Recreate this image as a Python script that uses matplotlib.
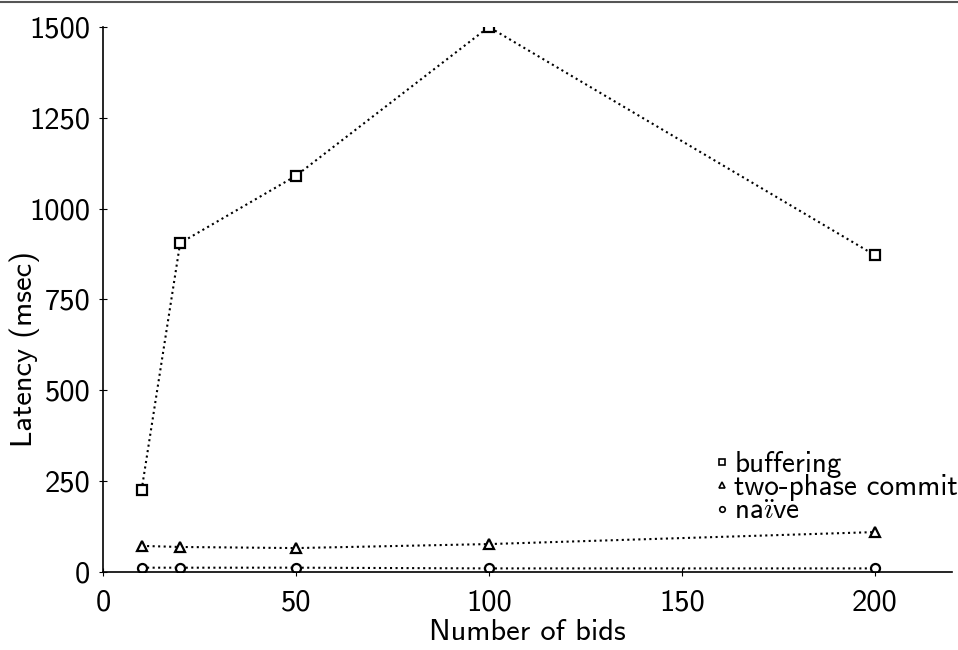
import matplotlib
matplotlib.use("Agg")
import matplotlib.pyplot as plt
from matplotlib.lines import Line2D

plt.rcParams['font.family'] = ['cmss10', 'DejaVu Sans']
plt.rcParams['axes.unicode_minus'] = False
plt.rcParams['mathtext.fontset'] = 'cm'

# data
bids = [10, 20, 50, 100, 200]
buffering = [224, 905, 1090, 1500, 872]
two_phase = [71, 68, 65, 76, 109]
naive = [11, 11, 11, 9, 9]

xticks = [0, 50, 100, 150, 200]
yticks = [0, 250, 500, 750, 1000, 1250, 1500]
labels = ['buffering', 'two-phase commit', r'$\mathsf{na\ddot{\imath}ve}$']

fig = plt.figure(figsize=(9.58, 6.5), dpi=100)
ax = fig.add_axes([0.1075, 0.1205, 0.886, 0.838])

line_kw = dict(color='black', linestyle=':', linewidth=1.5, markerfacecolor='white',
               markeredgecolor='black', markeredgewidth=1.6)
ax.plot(bids, buffering, marker='s', markersize=6.5, **line_kw)
ax.plot(bids, two_phase, marker='^', markersize=6.5, **line_kw)
ax.plot(bids, naive, marker='o', markersize=6.5, **line_kw)

ax.set_xlim(0, 220)
ax.set_ylim(0, 1500)
ax.set_xticks(xticks)
ax.set_yticks(yticks)
ax.set_xticklabels([str(v) for v in xticks])
ax.set_yticklabels([str(v) for v in yticks])
ax.tick_params(direction='inout', length=6, width=0.8, labelsize=22)
ax.tick_params(axis='x', pad=10)
ax.tick_params(axis='y', pad=6)
for s in ['top', 'right']:
    ax.spines[s].set_visible(False)
ax.spines['left'].set_linewidth(1.2)
ax.spines['bottom'].set_linewidth(1.2)

ax.set_xlabel('Number of bids', fontsize=22)
ax.set_ylabel('Latency (msec)', fontsize=22)
ax.xaxis.set_label_coords(0.5, -0.086)
ax.yaxis.set_label_coords(-0.074, 0.408)

handles = [Line2D([], [], linestyle='none', marker=m, markersize=4, markerfacecolor='white',
                  markeredgecolor='black', markeredgewidth=1.2) for m in ['s', '^', 'o']]
ax.legend(handles, labels, loc='upper left',
          bbox_to_anchor=(0.723, 0.222), frameon=False, fontsize=21, handlelength=0.4,
          handletextpad=0.21, labelspacing=-0.12, borderpad=0, borderaxespad=0)

# thin rule across the very top of the figure
fig.add_artist(Line2D([0, 1], [0.997, 0.997], transform=fig.transFigure, color='#555555', linewidth=1.5))

fig.savefig('out.png', dpi=100)
